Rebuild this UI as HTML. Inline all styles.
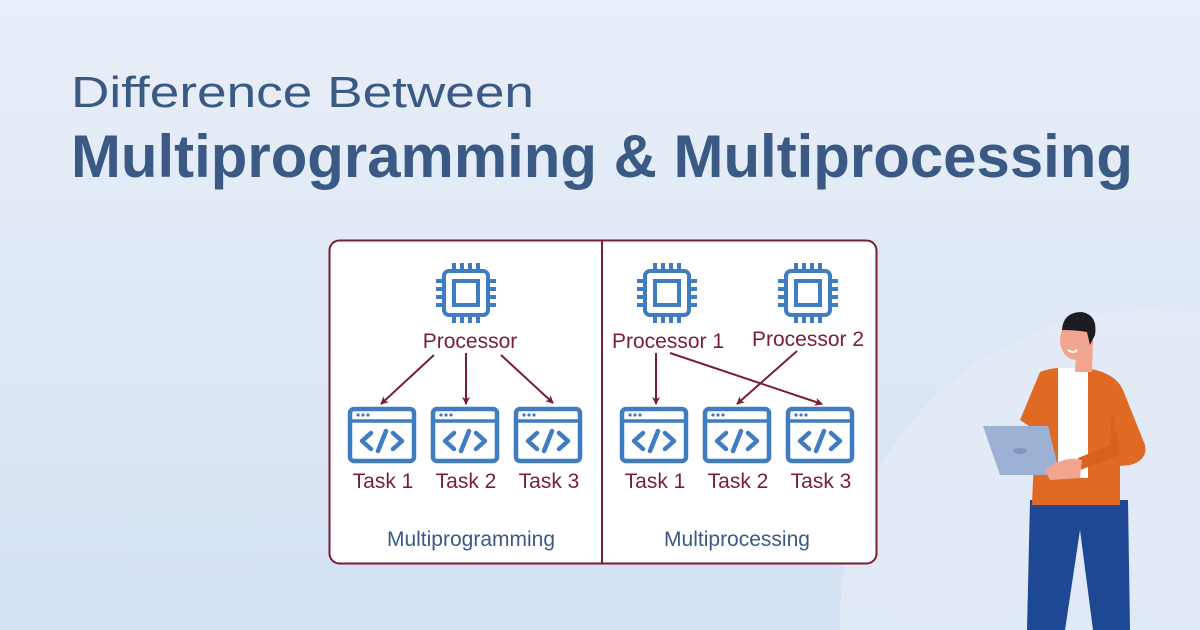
<!DOCTYPE html>
<html><head><meta charset="utf-8"><style>
html,body{margin:0;padding:0;width:1200px;height:630px;overflow:hidden}
svg{display:block;position:absolute;left:0;top:0}
text{font-family:"Liberation Sans",sans-serif}
</style></head><body>
<svg width="1200" height="630" viewBox="0 0 1200 630">
<defs>
<linearGradient id="bg" x1="0" y1="0" x2="0" y2="1">
<stop offset="0" stop-color="#e9eff8"/><stop offset="1" stop-color="#d3e1f3"/>
</linearGradient>
<marker id="ah" markerWidth="8" markerHeight="8" refX="7" refY="4" orient="auto" markerUnits="userSpaceOnUse">
<path d="M0,0 L8,4 L0,8 L2,4 Z" fill="#7a1e35"/>
</marker>
<g id="chip" fill="none" stroke="#3f7cc0" stroke-width="4">
<rect x="-22" y="-22" width="44" height="44" rx="5"/>
<rect x="-12" y="-12" width="24" height="24"/>
<path d="M-12,-22v-8M-4,-22v-8M4,-22v-8M12,-22v-8M-12,22v8M-4,22v8M4,22v8M12,22v8M-22,-12h-8M-22,-4h-8M-22,4h-8M-22,12h-8M22,-12h8M22,-4h8M22,4h8M22,12h8"/>
</g>
<g id="win">
<rect x="2" y="2" width="64" height="52" rx="4" fill="none" stroke="#3f7cc0" stroke-width="4.5"/>
<line x1="2" y1="14" x2="66" y2="14" stroke="#3f7cc0" stroke-width="3.5"/>
<circle cx="10" cy="8" r="1.6" fill="#3f7cc0"/><circle cx="15" cy="8" r="1.6" fill="#3f7cc0"/><circle cx="20" cy="8" r="1.6" fill="#3f7cc0"/>
<path d="M23,26 L14,34 L23,42 M45,26 L54,34 L45,42 M38,24 L30,44" fill="none" stroke="#3f7cc0" stroke-width="4.5" stroke-linecap="round" stroke-linejoin="round"/>
</g>
</defs>
<rect width="1200" height="630" fill="url(#bg)"/>
<circle cx="1150" cy="620" r="310" fill="#e3ebf6" opacity="0.8"/>

<text x="71" y="107" font-size="44" fill="#3a5a85" textLength="463" lengthAdjust="spacingAndGlyphs">Difference Between</text>
<text x="71" y="177" font-size="60" fill="#3a5a85" font-weight="bold" textLength="1062" lengthAdjust="spacingAndGlyphs">Multiprogramming &amp; Multiprocessing</text>

<rect x="329.5" y="240.5" width="547" height="323" rx="10" fill="#fff" stroke="#7a1e35" stroke-width="2"/>
<line x1="602" y1="241" x2="602" y2="563" stroke="#7a1e35" stroke-width="2"/>

<use href="#chip" x="466" y="293"/>
<use href="#chip" x="667" y="293"/>
<use href="#chip" x="808" y="293"/>

<g font-size="21" fill="#7a1e35" text-anchor="middle">
<text x="470" y="348">Processor</text>
<text x="668" y="348">Processor 1</text>
<text x="808" y="346">Processor 2</text>
<text x="383" y="488">Task 1</text>
<text x="466" y="488">Task 2</text>
<text x="549" y="488">Task 3</text>
<text x="655" y="488">Task 1</text>
<text x="738" y="488">Task 2</text>
<text x="821" y="488">Task 3</text>
</g>
<g font-size="21" fill="#3a5a85" text-anchor="middle">
<text x="471" y="546">Multiprogramming</text>
<text x="737" y="546">Multiprocessing</text>
</g>

<g stroke="#7a1e35" stroke-width="2" marker-end="url(#ah)">
<line x1="434" y1="355" x2="381" y2="404"/>
<line x1="466" y1="353" x2="466" y2="404"/>
<line x1="501" y1="355" x2="553" y2="403"/>
<line x1="656" y1="353" x2="656" y2="404"/>
<line x1="670" y1="353" x2="822" y2="404"/>
<line x1="797" y1="351" x2="737" y2="404"/>
</g>

<use href="#win" x="348" y="407"/>
<use href="#win" x="431" y="407"/>
<use href="#win" x="514" y="407"/>
<use href="#win" x="620" y="407"/>
<use href="#win" x="703" y="407"/>
<use href="#win" x="786" y="407"/>

<!-- person -->
<g>
<path d="M1030,500 L1128,500 L1130,630 L1093,630 L1080,530 L1065,630 L1027,630 Z" fill="#1f4894"/>
<path d="M1040,372 Q1050,368 1060,368 L1085,368 Q1115,372 1123,390 L1145,445 Q1148,460 1130,465 L1120,466 L1120,505 L1032,505 L1035,430 L1020,420 Z" fill="#e06a23"/>
<rect x="1058" y="368" width="30" height="110" fill="#fff"/>
<path d="M1112,410 L1120,455 L1080,470 L1078,458 L1110,445 Z" fill="#d9601e"/>
<path d="M1077,340 L1093,340 L1092,372 L1075,372 Z" fill="#f2a58e"/>
<ellipse cx="1076" cy="340" rx="16" ry="20" fill="#f2a58e"/>
<path d="M1062,330 Q1063,312 1082,312 Q1098,315 1095,335 L1090,345 L1087,332 Q1075,330 1062,330 Z" fill="#1c1c22"/>
<path d="M1068,350 q5,4 9,0" stroke="#fff" stroke-width="2" fill="none"/>
<path d="M983,426 L1048,426 L1060,475 L1000,475 Z" fill="#9db1d4"/>
<ellipse cx="1020" cy="451" rx="7" ry="3" fill="#7f97c0"/>
<path d="M1045,470 Q1065,455 1082,460 L1080,478 L1050,480 Z" fill="#f2a58e"/>
</g>
</svg>
</body></html>
